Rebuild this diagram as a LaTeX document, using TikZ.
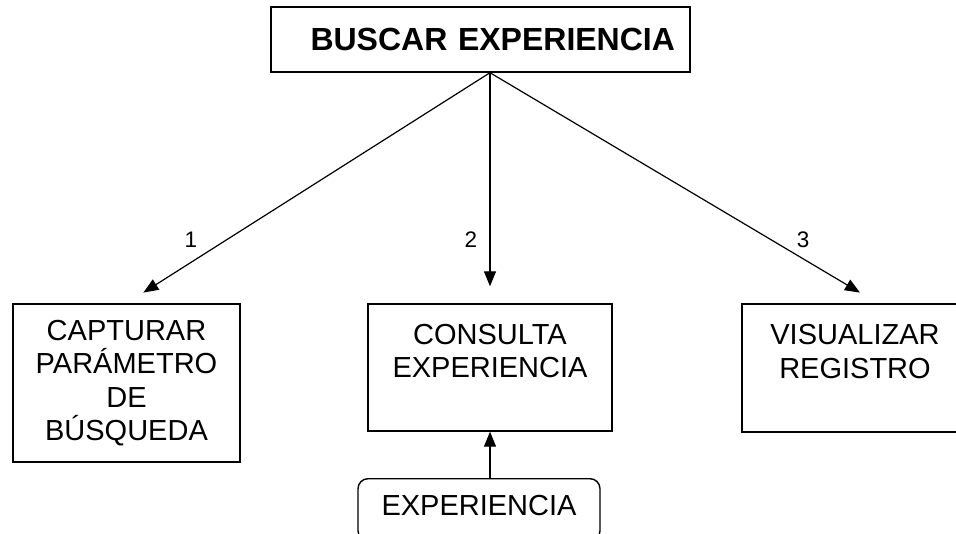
\documentclass[tikz,border=0pt]{standalone}
\usepackage{fontspec}
\setmainfont{Liberation Sans}
\usepackage{tikz}
\usetikzlibrary{arrows.meta}

\begin{document}
\begin{tikzpicture}[x=1pt,y=-1pt,
  caja/.style={draw,line width=1.4pt,align=center,inner sep=0pt,font=\fontsize{29}{33.5}\selectfont},
  flecha/.style={line width=1.2pt,-{Triangle[length=15pt,width=12pt]}},
  numero/.style={inner sep=0pt,font=\fontsize{22.5}{26}\selectfont}]
\clip (0,0) rectangle (956,533);
\node[caja,font=\fontsize{32}{36}\selectfont\bfseries,text width=389pt,inner xsep=15pt,align=right,minimum height=65pt] (buscar) at (480.5,39.5) {BUSCAR EXPERIENCIA};
\node[caja,minimum width=227pt,minimum height=158pt] (capturar) at (126.5,383) {CAPTURAR\\PARÁMETRO\\DE\\BÚSQUEDA};
\node[caja,minimum width=244pt,minimum height=127pt] (consulta) at (490,367.5) {CONSULTA\\EXPERIENCIA\\\mbox{}};
\node[caja,minimum width=226pt,minimum height=128pt] (visualizar) at (855,368) {VISUALIZAR\\REGISTRO\\\mbox{}};
\node[caja,rounded corners=10pt,anchor=north,minimum width=242pt,minimum height=62pt,text depth=8pt] (experiencia) at (479,478) {EXPERIENCIA};
\coordinate (vertice) at ([xshift=9.5pt]buscar.south);
\draw[flecha,shorten >=20pt] (vertice) -- (capturar.north);
\draw[flecha,shorten >=17pt] (vertice) -- (consulta.north);
\draw[flecha,shorten >=21pt] (vertice) -- ([xshift=23pt]visualizar.north);
\draw[flecha] (experiencia.north -| consulta.south) -- (consulta.south);
\node[numero] (uno) at (191,240) {1};
\node[numero] (dos) at (471,240) {2};
\node[numero] (tres) at (803,240) {3};
\end{tikzpicture}
\end{document}
